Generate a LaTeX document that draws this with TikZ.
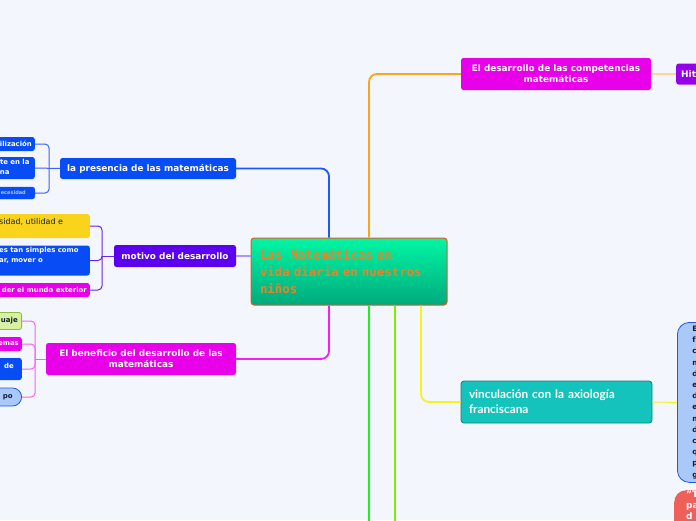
\documentclass[tikz,border=0pt]{standalone}
\usepackage{fontspec}
\setmainfont{DejaVu Sans}
\newfontfamily\monof{DejaVu Sans Mono}
\newfontfamily\latof{Lato}
\usetikzlibrary{calc}
\definecolor{bg}{RGB}{243,246,253}
\definecolor{cblue}{RGB}{8,76,246}
\definecolor{cviolet}{RGB}{92,0,240}
\definecolor{cmag}{RGB}{232,0,232}
\definecolor{cyel}{RGB}{250,212,28}
\definecolor{cteal}{RGB}{20,196,188}
\definecolor{ctealdk}{RGB}{14,130,124}
\definecolor{chito}{RGB}{150,0,232}
\definecolor{clblue}{RGB}{170,200,248}
\definecolor{clbluedk}{RGB}{30,90,230}
\definecolor{cred}{RGB}{240,96,90}
\definecolor{clgreen}{RGB}{216,240,160}
\definecolor{clgreendk}{RGB}{140,190,70}
\definecolor{mtop}{RGB}{0,246,164}
\definecolor{mbot}{RGB}{0,170,124}
\definecolor{mborder}{RGB}{232,90,30}
\definecolor{mtext}{RGB}{236,130,40}
\definecolor{lblue}{RGB}{30,90,240}
\definecolor{lorange}{RGB}{255,163,26}
\definecolor{lgreen}{RGB}{30,240,30}
\definecolor{llime}{RGB}{124,240,0}
\definecolor{lyellow}{RGB}{244,244,28}
\definecolor{lmag}{RGB}{240,32,240}
\definecolor{lviolet}{RGB}{170,150,248}
\definecolor{lpblue}{RGB}{60,100,240}
\definecolor{lpviolet}{RGB}{100,40,230}
\definecolor{lpink}{RGB}{244,100,244}
\definecolor{lhito}{RGB}{255,210,150}
\definecolor{dtext}{RGB}{20,30,60}
\begin{document}
\begin{tikzpicture}[x=1pt,y=-1pt,
  box/.style={rounded corners=2.5pt, inner sep=0pt},
  mainbr/.style={line width=1.8pt, rounded corners=8pt},
  subbr/.style={line width=1pt, rounded corners=4pt},
  wt/.style={text=white, font=\bfseries\fontsize{8.9}{11}\selectfont, align=center},
  st/.style={text=white, font=\bfseries\fontsize{6.9}{10}\selectfont, align=left, inner sep=0pt},
  dt/.style={text=dtext, font=\fontsize{8}{9}\selectfont, align=left, inner sep=0pt}]
\fill[bg] (0,0) rectangle (696,520);
\useasboundingbox (0,0) rectangle (696,520);

% central node
\node[rounded corners=3pt, draw=mborder, line width=1pt, top color=mtop, bottom color=mbot,
  minimum width=196pt, minimum height=67pt, text width=178pt, align=left, inner sep=0pt,
  font=\monof\bfseries\fontsize{12.4}{17}\selectfont, text=mtext] (main) at (349,271.5)
  {Las~ Matemáticas en\\vida diaria en nuestros\\niños};

% left main nodes
\node[box, fill=cblue, minimum width=176pt, minimum height=21pt, wt] (pres) at (148,168.5) {la presencia de las matemáticas};
\node[box, fill=cviolet, minimum width=122pt, minimum height=22pt, wt] (mot) at (175,256) {motivo del desarrollo};
\node[box, fill=cmag, minimum width=190pt, minimum height=32pt, wt] (ben) at (141,359) {El beneficio del desarrollo de las\\matemáticas};

% right main nodes
\node[box, fill=cmag, minimum width=190pt, minimum height=32pt, wt] (comp) at (556,74) {El desarrollo de las competencias\\matemáticas};
\node[box, fill=chito, minimum height=21pt, minimum width=40pt, text width=30pt, inner xsep=5pt, align=left, anchor=west,
  text=white, font=\bfseries\fontsize{9}{10}\selectfont] (hito) at (676,74) {Hit};
\node[rounded corners=3pt, fill=cteal, draw=ctealdk, line width=0.8pt, minimum width=191pt, minimum height=42pt,
  text width=175pt, align=left, inner sep=0pt, text=white, font=\latof\bfseries\fontsize{11.8}{15}\selectfont] (vinc) at (556.5,402)
  {vinculación con la axiología\\franciscana};
\node[rounded corners=12pt, fill=clblue, draw=clbluedk, line width=0.8pt, anchor=north west,
  minimum width=60pt, minimum height=160pt, text width=30pt, inner xsep=15pt, inner ysep=0pt, align=left,
  text=dtext, font=\bfseries\fontsize{7.5}{11.2}\selectfont] (desc) at (677,322)
  {E\\f\\c\\m\\d\\e\\d\\e\\m\\d\\c\\q\\p\\g};
\node[rounded corners=12pt, fill=cred, anchor=north west, minimum width=60pt, minimum height=50pt] (quote) at (674,490) {};
\node[anchor=north west, inner sep=0pt, align=left, text=white, font=\bfseries\fontsize{9}{11}\selectfont] (quotet) at (686,491) {"T\\pa\\d};

% presencia children
\node[box, fill=cblue, anchor=east, minimum width=60pt, minimum height=14pt] (p1) at (35,144) {};
\node[box, fill=cblue, anchor=east, minimum width=60pt, minimum height=22pt] (p2) at (35,168) {};
\node[box, fill=cblue, draw=clbluedk, anchor=east, minimum width=60pt, minimum height=12pt] (p3) at (35,193) {};
\node[st, anchor=east] (p1t) at (32,144) {ilización};
\node[st, anchor=north west] (p2t) at (-5,159.5) {ute en la\\ana};
\node[st, anchor=east, font=\bfseries\fontsize{5}{6}\selectfont, text=clblue] (p3t) at (26,193) {ecesidad};

% motivo children
\node[box, fill=cyel, anchor=east, minimum width=100pt, minimum height=24pt] (m1) at (90,226) {};
\node[box, fill=cblue, anchor=east, minimum width=100pt, minimum height=30pt] (m2) at (90,260.5) {};
\node[box, fill=cmag, anchor=east, minimum width=100pt, minimum height=14pt] (m3) at (90,290) {};
\node[dt, anchor=west] (m1t) at (-1,222) {sidad, utilidad e};
\node[st, anchor=north west] (m2t) at (-1,247.5) {es tan simples como\\ar, mover o};
\node[st, anchor=east] (m3t) at (87,290) {der el mundo exterior};

% beneficio children
\node[box, fill=clgreen, draw=clgreendk, line width=0.8pt, anchor=east, minimum width=40pt, minimum height=17pt] (b1) at (22,321) {};
\node[box, fill=cmag, anchor=east, minimum width=40pt, minimum height=14pt] (b2) at (22,344) {};
\node[box, fill=cblue, anchor=east, minimum width=40pt, minimum height=22pt] (b3) at (22,369) {};
\node[rounded corners=9pt, fill=clblue, draw=clbluedk, line width=0.8pt, anchor=east, minimum width=40pt, minimum height=18pt] (b4) at (22,397) {};
\node[dt, anchor=east, font=\bfseries\fontsize{7}{8}\selectfont] (b1t) at (18,321) {uaje};
\node[st, anchor=east] (b2t) at (19,344) {emas};
\node[st, anchor=east] (b3t) at (14,366) {de};
\node[dt, anchor=east, font=\bfseries\fontsize{7}{8}\selectfont] (b4t) at (13,397) {po};

% coordinates
\coordinate (pbr) at (49,168);
\coordinate (mbr) at (102,256);
\coordinate (bbr) at (35,359);
\coordinate (gend) at (369,530);
\coordinate (lend) at (395,530);

% main connectors
\draw[mainbr, lblue] ([xshift=-20pt]main.north) |- (pres.east);
\draw[mainbr, lorange] ([xshift=20pt]main.north) |- (comp.west);
\draw[line width=1.2pt, lviolet] (mot.east) -- (mot.east -| main.west);
\draw[mainbr, lmag] ([xshift=-20pt]main.south) |- (ben.east);
\draw[mainbr, lgreen] ([xshift=20pt]main.south) -- (gend);
\draw[mainbr, llime] ([xshift=46pt]main.south) -- (lend);
\draw[mainbr, lyellow] ([xshift=72pt]main.south) |- (vinc.west);
\draw[line width=1.5pt, lhito] (comp.east) -- (hito.west);
\draw[line width=1pt, lyellow] (vinc.east) -- (desc.west);

% sub connectors
\draw[subbr, lpblue] (pres.west) -- (p2.east);
\draw[subbr, lpblue] (pbr) |- (p1.east);
\draw[subbr, lpblue] (pbr) |- (p3.east);
\draw[subbr, lpviolet] (mot.west) -- (mbr);
\draw[subbr, lpviolet] (mbr) |- (m1.east);
\draw[subbr, lpviolet] (mbr) |- (m2.east);
\draw[subbr, lpviolet] (mbr) |- (m3.east);
\draw[subbr, lpink] (ben.west) -- (bbr);
\draw[subbr, lpink] (bbr) |- (b1.east);
\draw[subbr, lpink] (bbr) |- (b2.east);
\draw[subbr, lpink] (bbr) |- (b3.east);
\draw[subbr, lpink] (bbr) |- (b4.east);
\end{tikzpicture}
\end{document}
